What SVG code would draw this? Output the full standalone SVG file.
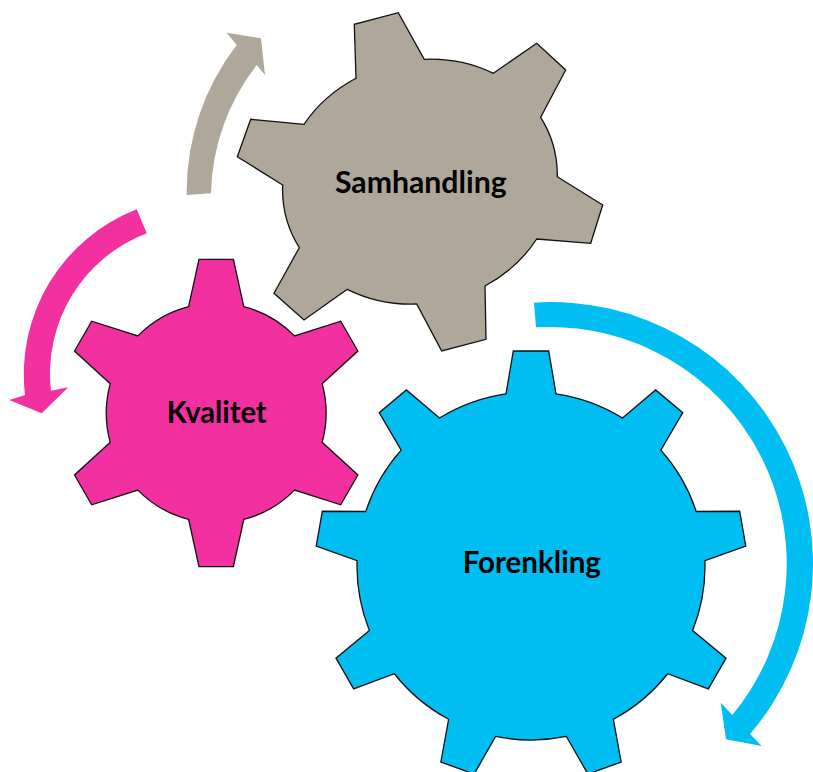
<svg xmlns="http://www.w3.org/2000/svg" width="813" height="772" viewBox="0 0 813 772">
<style>
.gear{stroke:#111;stroke-width:1.3;stroke-linejoin:miter}
.lbl{font-family:Lato,"Open Sans","Liberation Sans",sans-serif;font-weight:bold;font-size:31px;fill:#000;text-anchor:middle}
.g1{fill:#B0A79B}
.g2{fill:#F330A0}
.g3{fill:#00BDF2}
</style>
<rect width="813" height="772" fill="#fff"/>
<g id="connectors">
<path id="arrow-gray" class="g1" d="M186.7,195 A240 240 0 0 1 236.7,45 L226.7,32.7 L261,38.3 L265,75 L256.7,65 A215 215 0 0 0 211,193.3 Z"/>
<path id="arrow-pink" class="g2" d="M136.7,209.3 A177 177 0 0 0 25,395 L9.3,400 L41.7,413.3 L68.3,387.3 L51,390.7 A150 150 0 0 1 146.7,233.3 Z"/>
<path id="arrow-blue" class="g3" d="M534,302.7 A261.6 261.6 0 0 1 750,734 L761.7,746 L726,739.3 L720.7,702.7 L732.3,715 A237 237 0 0 0 536,327.3 Z"/>
</g>
<g id="node-samhandling">
<path class="gear g1" d="M356,78.3 L354.3,24.3 L398.3,12.7 L424.3,59.3 A138 122 -15 0 1 493.3,73.3 L536.7,43.3 L565.7,70 L540.7,117.3 A138 122 -15 0 1 557.3,176.7 L602.7,205 L590.7,243.3 L536.7,239 A138 122 -15 0 1 485,286 L486,339.3 L441.7,351 L416.7,304 A138 122 -15 0 1 347.3,289.3 L304,320 L274,293.3 L299.3,247.7 A138 122 -15 0 1 282.7,185 L237.3,156.7 L250.7,119.3 L304,124.3 A138 122 -15 0 1 356,78.3 Z"/>
<text class="lbl" x="420.8" y="193.3" textLength="171.7" lengthAdjust="spacingAndGlyphs">Samhandling</text>
</g>
<g id="node-kvalitet">
<path class="gear g2" d="M188.6,306.6 L199,259.3 L233.4,259.3 L243.8,306.6 A110 110 0 0 1 294.54,335.9 L340.7,321.25 L357.9,351.05 L322.14,383.7 A110 110 0 0 1 322.14,442.3 L357.9,474.95 L340.7,504.75 L294.54,490.1 A110 110 0 0 1 243.8,519.4 L233.4,566.7 L199,566.7 L188.6,519.4 A110 110 0 0 1 137.86,490.1 L91.7,504.75 L74.5,474.95 L110.26,442.3 A110 110 0 0 1 110.26,383.7 L74.5,351.05 L91.7,321.25 L137.86,335.9 A110 110 0 0 1 188.6,306.6 Z"/>
<text class="lbl" x="216.7" y="422.7" textLength="100" lengthAdjust="spacingAndGlyphs">Kvalitet</text>
</g>
<g id="node-forenkling">
<path class="gear g3" d="M506,393.8 L513.3,351 L548.7,351 L556,393.8 A174 174 0 0 1 622.54,418.02 L655.64,389.93 L682.76,412.69 L660.84,450.16 A174 174 0 0 1 696.24,511.49 L739.66,511.24 L745.8,546.1 L704.92,560.73 A174 174 0 0 1 692.63,630.45 L726.04,658.17 L708.34,688.83 L667.63,673.75 A174 174 0 0 1 613.38,719.27 L621.16,761.99 L587.9,774.09 L566.4,736.37 A174 174 0 0 1 495.6,736.37 L474.1,774.09 L440.84,761.99 L448.62,719.27 A174 174 0 0 1 394.37,673.75 L353.66,688.83 L335.96,658.17 L369.37,630.45 A174 174 0 0 1 357.08,560.73 L316.2,546.1 L322.34,511.24 L365.76,511.49 A174 174 0 0 1 401.16,450.16 L379.24,412.69 L406.36,389.93 L439.46,418.02 A174 174 0 0 1 506,393.8 Z"/>
<text class="lbl" x="531.8" y="572.7" textLength="138.3" lengthAdjust="spacingAndGlyphs">Forenkling</text>
</g>
</svg>
